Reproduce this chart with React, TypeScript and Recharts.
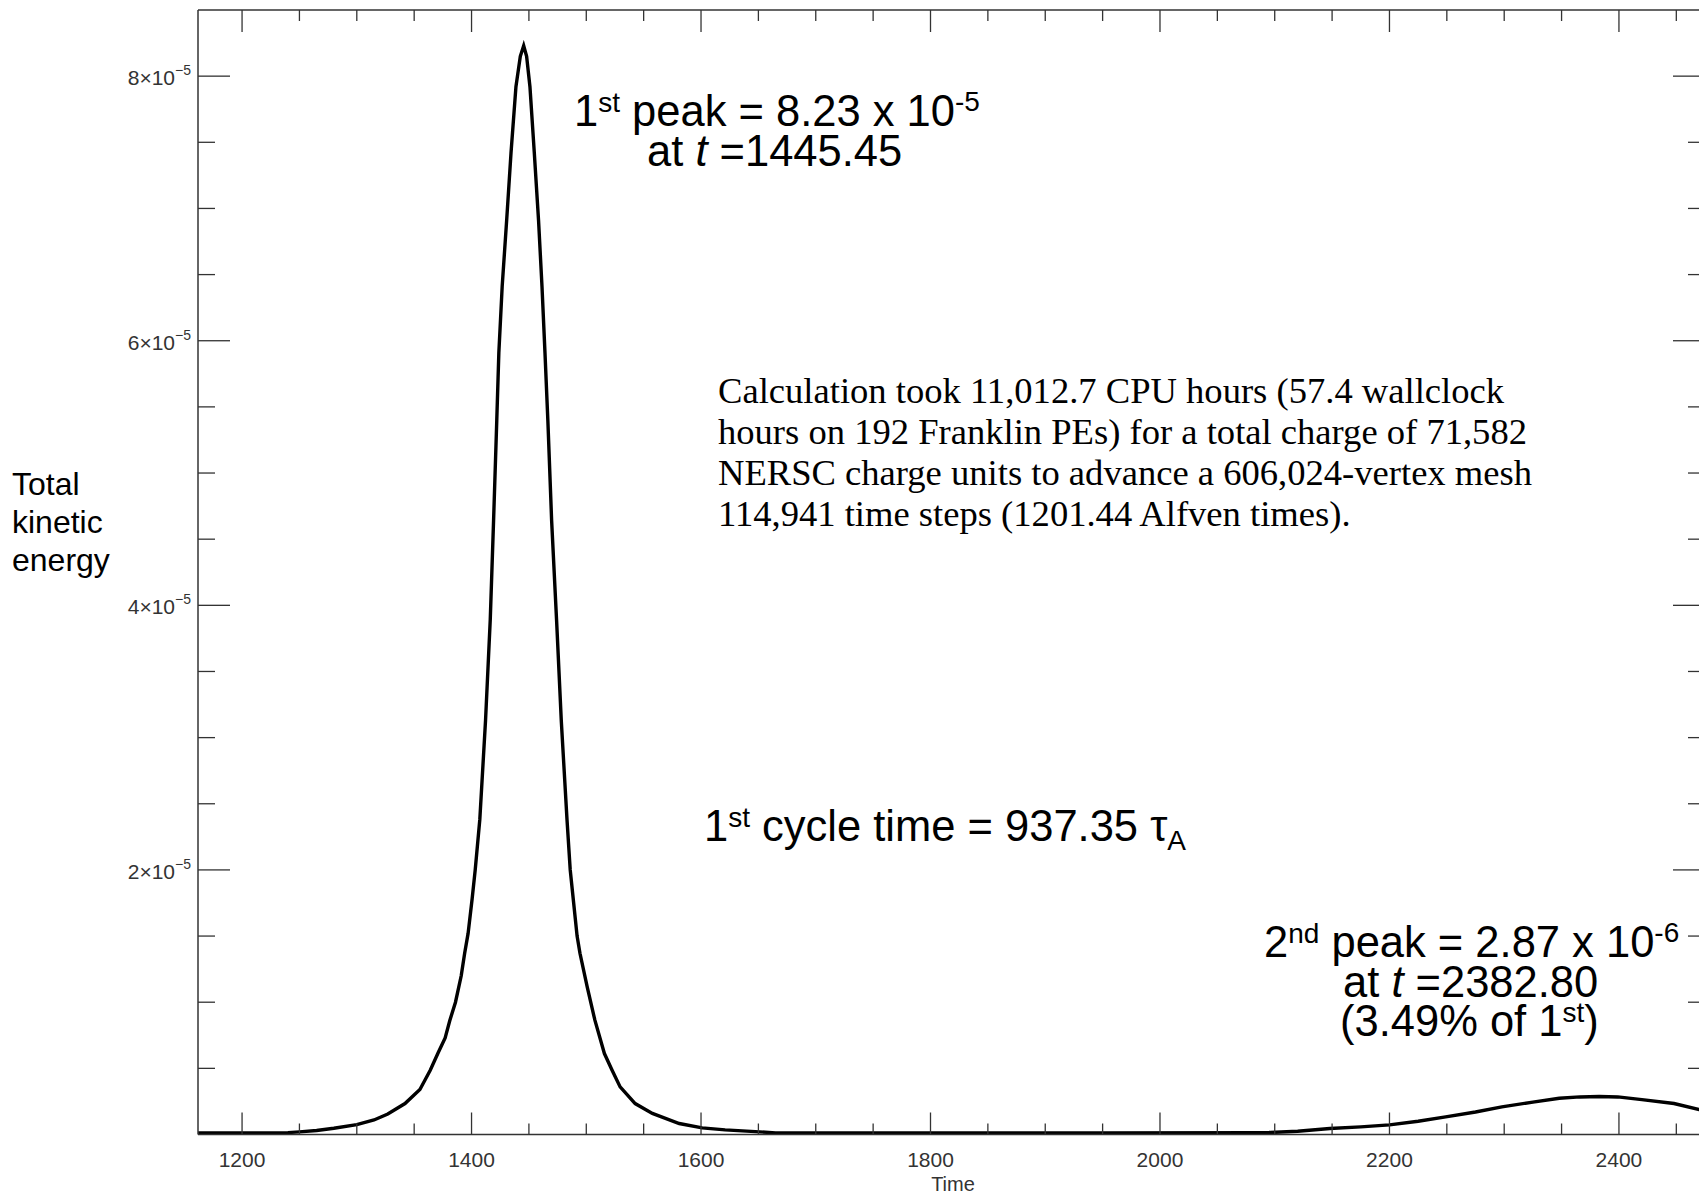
import React from "react";
import { LineChart, Line, XAxis, YAxis } from "recharts";

// ---- data (time, total kinetic energy) ----
const times = [
  1161.6, 1200, 1240, 1250, 1265, 1280, 1300, 1315, 1327, 1342, 1355, 1364, 1371, 1377, 1381, 1386, 1391, 1394, 1397,
  1400.5, 1403.2, 1407.2, 1412.2, 1416.3, 1419.2, 1422, 1423.8, 1426.7, 1430.6, 1434.4, 1438.7, 1442.5, 1445.45,
  1448, 1450.9, 1454.7, 1458.4, 1461.4, 1464.0, 1466.5, 1469.8, 1474.1, 1478.2, 1483.2, 1486, 1489, 1492, 1494.5,
  1500.8, 1507.5, 1515.8, 1522.5, 1529.5, 1542.6, 1557.6, 1581, 1601, 1621, 1651, 1665, 1800, 1950, 2080, 2095,
  2120, 2148, 2175, 2200, 2225, 2249, 2275, 2298, 2325, 2348, 2366, 2382.8, 2399, 2420, 2448, 2470, 2475,
];
const energy = [
  0.012e-5, 0.012e-5, 0.014e-5, 0.02e-5, 0.03e-5, 0.047e-5, 0.075e-5, 0.11e-5, 0.155e-5, 0.234e-5, 0.34e-5,
  0.486e-5, 0.62e-5, 0.73e-5, 0.86e-5, 1.0e-5, 1.2e-5, 1.37e-5, 1.52e-5,
  1.78e-5, 2.0e-5, 2.38e-5, 3.13e-5, 3.89e-5, 4.64e-5, 5.4e-5, 5.91e-5, 6.41e-5, 6.91e-5, 7.42e-5, 7.92e-5, 8.15e-5, 8.23e-5,
  8.15e-5, 7.92e-5, 7.42e-5, 6.91e-5, 6.41e-5, 5.91e-5, 5.4e-5, 4.64e-5, 3.89e-5, 3.13e-5, 2.38e-5, 2.0e-5, 1.75e-5, 1.5e-5, 1.37e-5,
  1.116e-5, 0.864e-5, 0.612e-5, 0.486e-5, 0.36e-5, 0.234e-5, 0.159e-5, 0.083e-5, 0.05e-5, 0.035e-5, 0.02e-5, 0.012e-5,
  0.012e-5, 0.012e-5, 0.013e-5, 0.015e-5,
  0.025e-5, 0.045e-5, 0.058e-5, 0.073e-5, 0.1e-5, 0.133e-5, 0.17e-5, 0.209e-5, 0.245e-5, 0.274e-5, 0.284e-5, 0.287e-5,
  0.284e-5, 0.264e-5, 0.234e-5, 0.189e-5, 0.18e-5,
];

const xDomain = [1161.6, 2475];
const yDomain = [0, 8.5e-5];

const xMajorTicks = [1200, 1400, 1600, 1800, 2000, 2200, 2400];
const xTickLabels = ["1200", "1400", "1600", "1800", "2000", "2200", "2400"];
const xMinorTicks = [1250, 1300, 1350, 1450, 1500, 1550, 1650, 1700, 1750, 1850, 1900, 1950, 2050, 2100, 2150, 2250, 2300, 2350, 2450];

const yMajorTicks = [2e-5, 4e-5, 6e-5, 8e-5];
const yMantissas = ["2", "4", "6", "8"];
const yExponent = "\u22125";
const yMinorTicks = [0.5e-5, 1e-5, 1.5e-5, 2.5e-5, 3e-5, 3.5e-5, 4.5e-5, 5e-5, 5.5e-5, 6.5e-5, 7e-5, 7.5e-5];

const xAllTicks = [...xMajorTicks, ...xMinorTicks].sort((a, b) => a - b);
const yAllTicks = [...yMajorTicks, ...yMinorTicks].sort((a, b) => a - b);

const data = times.map((t, i) => ({ time: t, energy: energy[i] }));

const AXIS = "#333";
const SANS = "'Liberation Sans', Arial, Helvetica, sans-serif";
const SERIF = "'Liberation Serif', 'Times New Roman', serif";

const BottomTick = (props: any) => {
  const { x, y, payload } = props;
  const idx = xMajorTicks.indexOf(payload.value);
  const major = idx >= 0;
  return (
    <g>
      <line x1={x} x2={x} y1={y} y2={y - (major ? 22 : 11)} stroke={AXIS} strokeWidth={1.3} />
      {major && (
        <text x={x} y={y + 32.5} textAnchor="middle" fontSize={21} fill="#333" fontFamily={SANS}>
          {xTickLabels[idx]}
        </text>
      )}
    </g>
  );
};

const TopTick = (props: any) => {
  const { x, y, payload } = props;
  const major = xMajorTicks.indexOf(payload.value) >= 0;
  return <line x1={x} x2={x} y1={y} y2={y + (major ? 22 : 11)} stroke={AXIS} strokeWidth={1.3} />;
};

const LeftTick = (props: any) => {
  const { x, y, payload } = props;
  const idx = yMajorTicks.indexOf(payload.value);
  const major = idx >= 0;
  return (
    <g>
      <line x1={x} x2={x + (major ? 32 : 17)} y1={y} y2={y} stroke={AXIS} strokeWidth={1.3} />
      {major && (
        <text x={x - 7} y={y + 9} textAnchor="end" fontSize={21} fill="#333" fontFamily={SANS}>
          {yMantissas[idx]}×10
          <tspan dy={-10} fontSize={14}>
            {yExponent}
          </tspan>
        </text>
      )}
    </g>
  );
};

const RightTick = (props: any) => {
  const { x, y, payload } = props;
  const major = yMajorTicks.indexOf(payload.value) >= 0;
  return <line x1={x} x2={x - (major ? 32 : 17)} y1={y} y2={y} stroke={AXIS} strokeWidth={1.3} />;
};

const Annotations = () => (
  <svg
    width={1720}
    height={1194}
    style={{ position: "absolute", left: 0, top: 0, pointerEvents: "none" }}
  >
    {/* y axis title */}
    <g fontFamily={SANS} fontSize={32} fill="#000">
      <text x={12} y={495}>Total</text>
      <text x={12} y={533}>kinetic</text>
      <text x={12} y={571}>energy</text>
    </g>
    {/* x axis title */}
    <text x={953} y={1191} textAnchor="middle" fontFamily={SANS} fontSize={20} fill="#333">
      Time
    </text>
    {/* first peak */}
    <g fontFamily={SANS} fontSize={43.5} fill="#000">
      <text x={574} y={126}>
        1<tspan dy={-14} fontSize={28}>st</tspan>
        <tspan dy={14}> peak = 8.23 x 10</tspan>
        <tspan dy={-15} fontSize={28}>-5</tspan>
      </text>
      <text x={647} y={166}>
        at <tspan fontStyle="italic">t</tspan> =1445.45
      </text>
    </g>
    {/* cycle time */}
    <g fontFamily={SANS} fontSize={43.5} fill="#000">
      <text x={704} y={841}>
        1<tspan dy={-14} fontSize={28}>st</tspan>
        <tspan dy={14}> cycle time = 937.35 τ</tspan>
        <tspan dy={9} fontSize={28}>A</tspan>
      </text>
    </g>
    {/* second peak */}
    <g fontFamily={SANS} fontSize={43.5} fill="#000">
      <text x={1264} y={957}>
        2<tspan dy={-14} fontSize={28}>nd</tspan>
        <tspan dy={14}> peak = 2.87 x 10</tspan>
        <tspan dy={-15} fontSize={28}>-6</tspan>
      </text>
      <text x={1343} y={997}>
        at <tspan fontStyle="italic">t</tspan> =2382.80
      </text>
      <text x={1340} y={1036}>
        (3.49% of 1<tspan dy={-14} fontSize={28}>st</tspan>
        <tspan dy={14}>)</tspan>
      </text>
    </g>
    {/* run statistics */}
    <g fontFamily={SERIF} fontSize={36.6} fill="#000">
      <text x={718} y={403}>Calculation took 11,012.7 CPU hours (57.4 wallclock</text>
      <text x={718} y={444}>hours on 192 Franklin PEs) for a total charge of 71,582</text>
      <text x={718} y={485}>NERSC charge units to advance a 606,024-vertex mesh</text>
      <text x={718} y={526}>114,941 time steps (1201.44 Alfven times).</text>
    </g>
  </svg>
);

export default function App() {
  return (
    <div
      style={{
        position: "fixed",
        left: 0,
        top: 0,
        width: 1699,
        height: 1194,
        overflow: "hidden",
        background: "#fff",
      }}
    >
      <div style={{ position: "relative", width: 1720, height: 1194 }}>
        <LineChart
          width={1720}
          height={1194}
          data={data}
          margin={{ top: 9, right: 14, bottom: 58.5, left: 197 }}
        >
          <XAxis
            dataKey="time"
            type="number"
            domain={xDomain}
            allowDataOverflow
            ticks={xAllTicks}
            interval={0}
            height={1}
            tickSize={0}
            tickMargin={0}
            tickLine={false}
            axisLine={{ stroke: AXIS, strokeWidth: 1.5 }}
            tick={<BottomTick />}
          />
          <XAxis
            xAxisId="top"
            orientation="top"
            dataKey="time"
            type="number"
            domain={xDomain}
            allowDataOverflow
            ticks={xAllTicks}
            interval={0}
            height={1}
            tickSize={0}
            tickMargin={0}
            tickLine={false}
            axisLine={{ stroke: AXIS, strokeWidth: 1.5 }}
            tick={<TopTick />}
          />
          <YAxis
            type="number"
            domain={yDomain}
            allowDataOverflow
            ticks={yAllTicks}
            interval={0}
            width={1}
            tickSize={0}
            tickMargin={0}
            tickLine={false}
            axisLine={{ stroke: AXIS, strokeWidth: 1.5 }}
            tick={<LeftTick />}
          />
          <YAxis
            yAxisId="right"
            orientation="right"
            type="number"
            domain={yDomain}
            allowDataOverflow
            ticks={yAllTicks}
            interval={0}
            width={1}
            tickSize={0}
            tickMargin={0}
            tickLine={false}
            axisLine={{ stroke: AXIS, strokeWidth: 1.5 }}
            tick={<RightTick />}
          />
          <Line
            type="linear"
            dataKey="energy"
            stroke="#000"
            strokeWidth={3.4}
            dot={false}
            activeDot={false}
            isAnimationActive={false}
          />
        </LineChart>
        <Annotations />
      </div>
    </div>
  );
}
